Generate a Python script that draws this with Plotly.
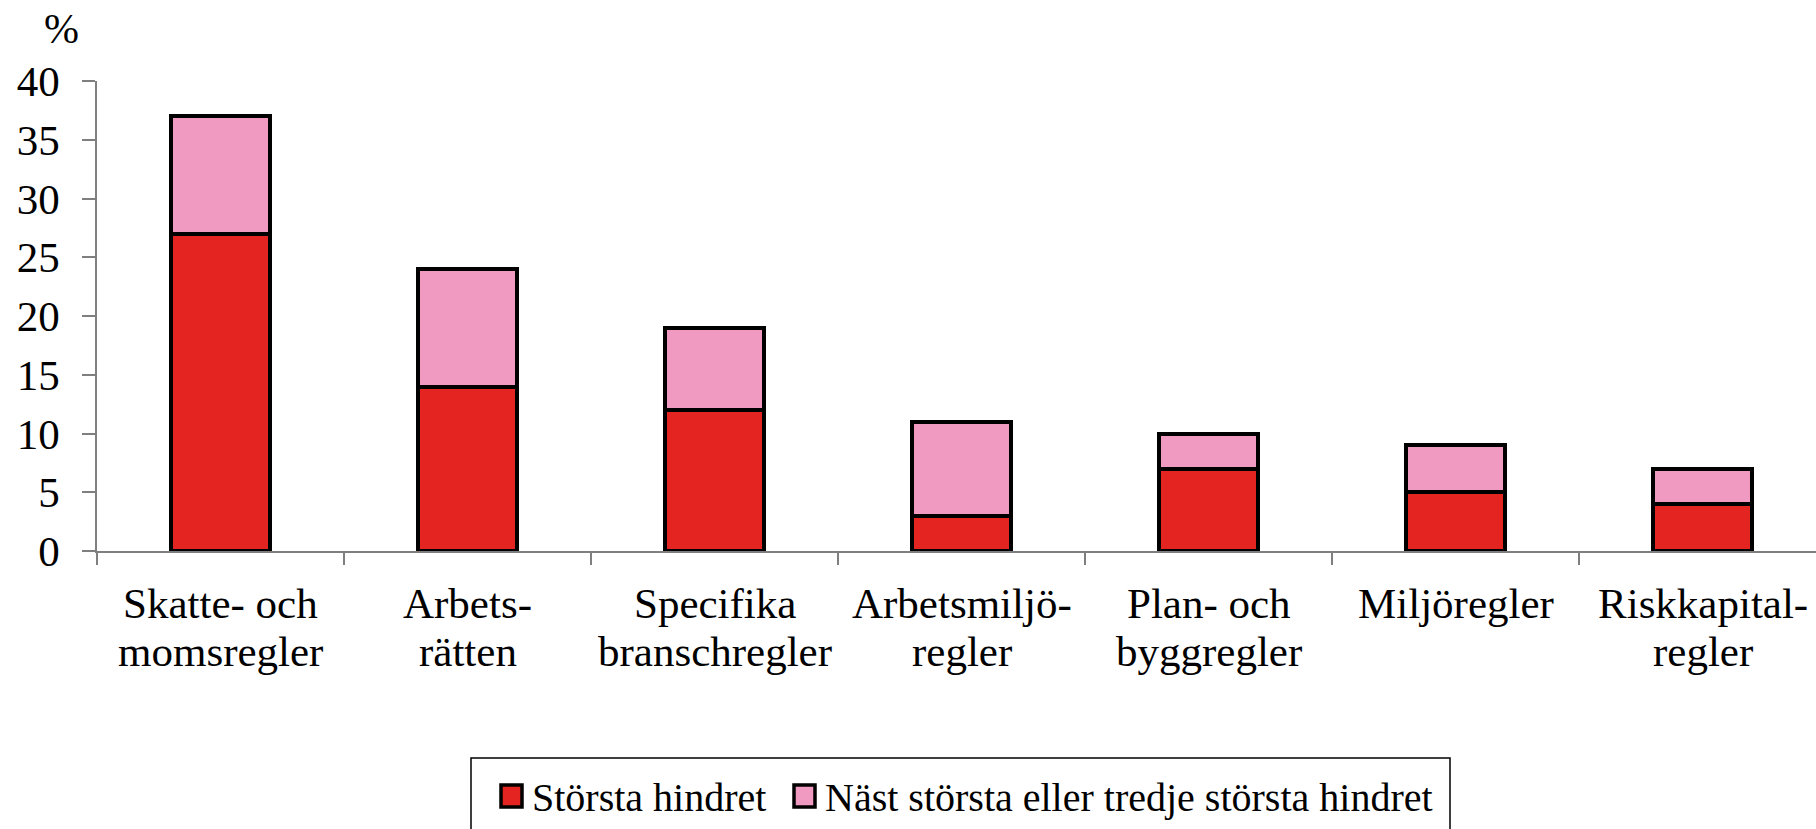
import plotly.graph_objects as go

categories = ["Skatte- och<br>momsregler", "Arbets-<br>rätten", "Specifika<br>branschregler",
              "Arbetsmiljö-<br>regler", "Plan- och<br>byggregler", "Miljöregler", "Riskkapital-<br>regler"]
storsta = [27, 14, 12, 3, 7, 5, 4]
nast = [10, 10, 7, 8, 3, 4, 3]
series_names = ["Största hindret", "Näst största eller tredje största hindret"]
y_ticks = [0, 5, 10, 15, 20, 25, 30, 35, 40]

RED = "#E42421"
PINK = "#F09AC1"
FONT = "Liberation Serif"
AXFONT = 43

W, H = 1816, 829
L, R, T, B = 97, 0, 81, 278
PW = W - L - R
PH = H - T - B
CAT_PX = 247.0

def px_x(px):
    return (px - L) / PW

def px_y(py):
    return (H - B - py) / PH

fig = go.Figure()
fig.add_trace(go.Bar(x=categories, y=storsta, name=series_names[0], width=0.4,
                     marker=dict(color=RED, line=dict(color="black", width=4)), showlegend=False))
fig.add_trace(go.Bar(x=categories, y=nast, name=series_names[1], width=0.4,
                     marker=dict(color=PINK, line=dict(color="black", width=4)), showlegend=False))

fig.update_layout(
    barmode="stack",
    width=W, height=H, autosize=False,
    margin=dict(l=L, r=R, t=T, b=B, pad=0),
    paper_bgcolor="white", plot_bgcolor="white",
    font=dict(family=FONT, size=40, color="black"),
    showlegend=False,
)
fig.update_xaxes(
    range=[-0.5, -0.5 + PW / CAT_PX],
    showline=True, linecolor="#7f7f7f", linewidth=1.5,
    ticks="outside", tickson="boundaries", ticklen=12, tickcolor="#7f7f7f", tickwidth=1.5,
    showgrid=False, showticklabels=False,
)
fig.update_yaxes(
    range=[0, 40], tickvals=y_ticks, tickfont=dict(size=AXFONT),
    showline=True, linecolor="#7f7f7f", linewidth=1.5,
    ticks="outside", ticklen=13, tickcolor="#7f7f7f", tickwidth=1.5,
    showgrid=False, zeroline=False, ticklabelstandoff=14,
)

# category labels (two lines, tighter spacing than plotly's default)
line_centers = [603, 651]
for i, cat in enumerate(categories):
    for j, part in enumerate(cat.split("<br>")):
        fig.add_annotation(text=part, xref="x", yref="paper", x=i, y=px_y(line_centers[j]),
                           xanchor="center", yanchor="middle", showarrow=False,
                           font=dict(family=FONT, size=AXFONT, color="black"))

# "%" unit label
fig.add_annotation(text="%", xref="paper", yref="paper", x=px_x(61), y=px_y(29),
                   xanchor="center", yanchor="middle", showarrow=False,
                   font=dict(family=FONT, size=42, color="black"))

# custom legend
shapes = [
    dict(type="rect", xref="paper", yref="paper", x0=px_x(471), x1=px_x(1450),
         y0=px_y(758), y1=px_y(834), line=dict(color="black", width=1.5), fillcolor="white", layer="above"),
    dict(type="rect", xref="paper", yref="paper", x0=px_x(501), x1=px_x(522),
         y0=px_y(785), y1=px_y(807), line=dict(color="black", width=3.5), fillcolor=RED, layer="above"),
    dict(type="rect", xref="paper", yref="paper", x0=px_x(794), x1=px_x(815),
         y0=px_y(785), y1=px_y(807), line=dict(color="black", width=3.5), fillcolor=PINK, layer="above"),
]
fig.update_layout(shapes=shapes)
fig.add_annotation(text=series_names[0], xref="paper", yref="paper", x=px_x(530), y=px_y(797),
                   xanchor="left", yanchor="middle", showarrow=False, font=dict(family=FONT, size=40))
fig.add_annotation(text=series_names[1], xref="paper", yref="paper", x=px_x(823), y=px_y(797),
                   xanchor="left", yanchor="middle", showarrow=False, font=dict(family=FONT, size=40))

fig.write_html("out.html", config={"displayModeBar": False},
               post_script="document.body.style.margin='0px';document.body.style.overflow='hidden';")
